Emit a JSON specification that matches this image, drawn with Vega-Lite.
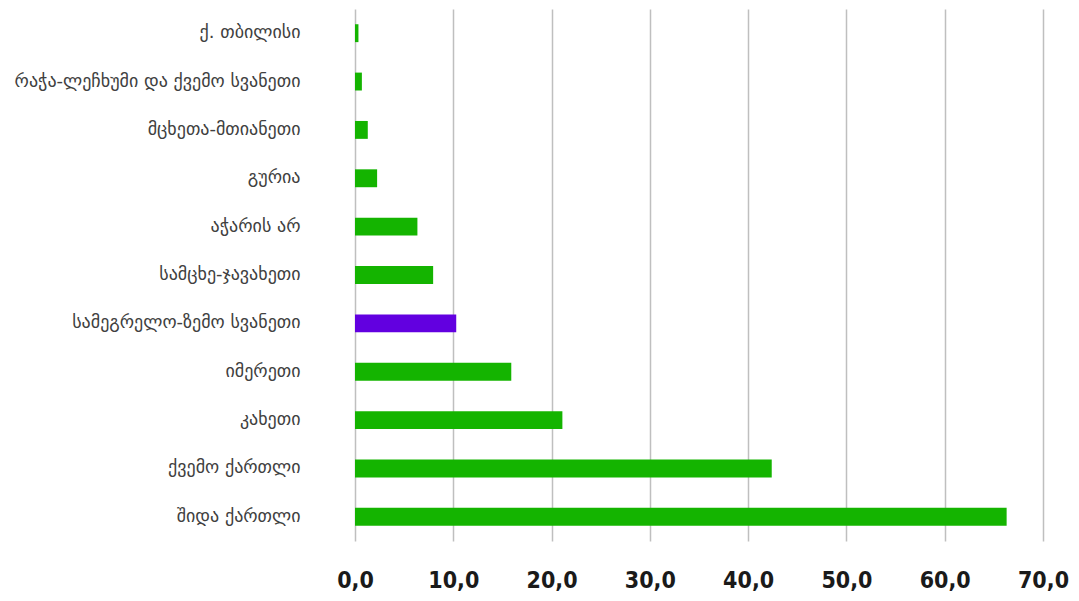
{
  "$schema": "https://vega.github.io/schema/vega-lite/v6.json",
  "width": 688,
  "height": 532,
  "autosize": {"type": "none"},
  "padding": {"left": 355, "top": 9, "right": 36, "bottom": 60},
  "background": "white",
  "config": {"view": {"stroke": null}},
  "data": {
    "values": [
      {"region": "ქ. თბილისი", "value": 0.35},
      {"region": "რაჭა-ლეჩხუმი და ქვემო სვანეთი", "value": 0.7},
      {"region": "მცხეთა-მთიანეთი", "value": 1.3},
      {"region": "გურია", "value": 2.25},
      {"region": "აჭარის არ", "value": 6.35},
      {"region": "სამცხე-ჯავახეთი", "value": 7.95},
      {"region": "სამეგრელო-ზემო სვანეთი", "value": 10.3},
      {"region": "იმერეთი", "value": 15.9},
      {"region": "კახეთი", "value": 21.1},
      {"region": "ქვემო ქართლი", "value": 42.4},
      {"region": "შიდა ქართლი", "value": 66.3}
    ]
  },
  "mark": {"type": "bar"},
  "encoding": {
    "y": {
      "field": "region",
      "type": "nominal",
      "sort": "x",
      "scale": {"paddingInner": 0.63, "paddingOuter": 0.315},
      "axis": {
        "title": null,
        "domain": false,
        "ticks": false,
        "labelFont": "DejaVu Sans",
        "labelFontSize": 18,
        "labelColor": "#404040",
        "labelPadding": 55,
        "labelLimit": 400
      }
    },
    "x": {
      "field": "value",
      "type": "quantitative",
      "scale": {"domain": [0, 70], "nice": false},
      "axis": {
        "title": null,
        "values": [0, 10, 20, 30, 40, 50, 60, 70],
        "domain": false,
        "ticks": false,
        "grid": true,
        "gridColor": "#bfbfbf",
        "gridWidth": 1.5,
        "labelFlush": false,
        "labelOverlap": false,
        "labelExpr": "replace(format(datum.value, '.1f'), '.', ',')",
        "labelFont": "DejaVu Sans Condensed, Liberation Sans, sans-serif",
        "labelFontSize": 23,
        "labelFontWeight": "bold",
        "labelColor": "#1a1a1a",
        "labelPadding": 28
      }
    },
    "color": {
      "condition": {"test": "datum.region === 'სამეგრელო-ზემო სვანეთი'", "value": "#6200E0"},
      "value": "#14B400"
    }
  }
}
